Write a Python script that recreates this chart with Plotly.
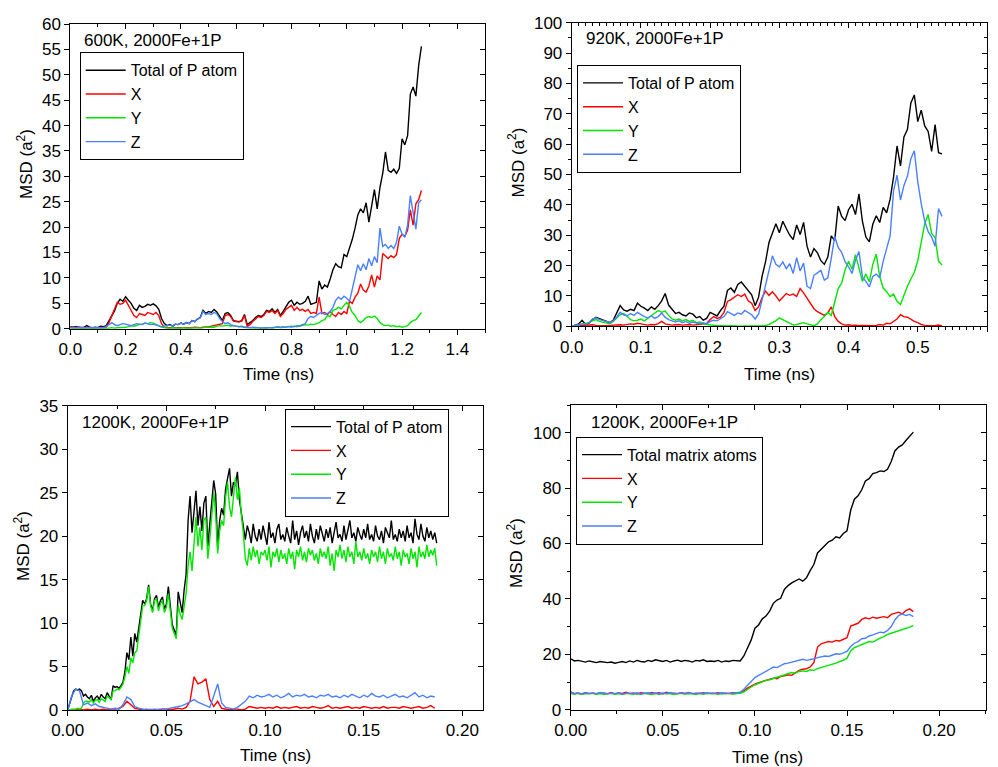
import plotly.graph_objects as go

# ---------------- Data ----------------
# Panel 1: 600K, 2000Fe+1P  (time step 0.01 ns)
P1_STEP = 0.01
p1_total = [0.4, 0.3, 0.4, 0.3, 0.2, 0.3, 0.6, 0.3, 0.2, 0.3,
            0.2, 0.5, 0.4, 0.6, 1.5, 2.5, 3.5, 5.0, 5.8, 5.4,
            6.3, 5.6, 5.0, 4.0, 3.6, 4.6, 4.2, 4.4, 4.8, 4.6,
            4.9, 4.5, 3.8, 2.0, 1.0, 0.6, 0.8, 0.5, 0.9, 0.8,
            1.1, 0.9, 1.2, 1.0, 1.6, 1.4, 1.9, 2.2, 3.6, 3.0,
            3.4, 3.2, 3.8, 3.3, 2.4, 1.6, 3.0, 3.2, 2.6, 1.6,
            1.5, 1.4, 1.6, 2.8, 0.8, 1.2, 1.6, 2.2, 2.6, 2.4,
            2.8, 3.6, 3.4, 3.9, 3.2, 3.8, 2.6, 3.4, 4.2, 5.2,
            5.6, 4.6, 5.2, 4.8, 5.0, 5.4, 6.4, 4.8, 5.0, 5.2,
            9.4, 7.8, 8.6, 8.2, 9.8, 11.6, 12.8, 12.2, 12.0, 14.6,
            14.2, 15.8, 17.6, 19.8, 22.4, 23.6, 22.8, 24.8, 21.0, 24.2,
            27.4, 23.6, 27.8, 30.6, 34.8, 31.2, 30.8, 31.4, 30.6, 31.6,
            37.4, 36.2, 38.0, 46.2, 47.6, 45.8, 51.8, 55.6]
p1_x = [0.3, 0.2, 0.2, 0.3, 0.2, 0.2, 0.3, 0.2, 0.2, 0.2,
        0.2, 0.3, 0.2, 0.3, 1.2, 2.5, 3.8, 5.2, 4.8, 5.0,
        5.6, 4.6, 3.8, 2.6, 2.2, 3.0, 2.8, 2.6, 3.2, 3.0,
        2.8, 3.2, 2.6, 1.0, 0.3, 0.2, 0.2, 0.1, 0.2, 0.1,
        0.2, 0.2, 0.1, 0.2, 0.2, 0.3, 0.2, 0.2, 0.3, 0.3,
        0.4, 0.5, 0.6, 0.8, 0.9, 1.0, 2.6, 2.8, 2.4, 1.5,
        1.4, 1.3, 1.5, 2.6, 0.4, 0.8, 1.4, 2.0, 2.4, 2.2,
        2.6, 3.4, 3.2, 3.6, 3.0, 3.6, 2.4, 3.0, 3.8, 4.2,
        4.6, 3.6, 4.2, 3.6, 3.8, 3.4, 3.8, 3.0, 3.2, 3.0,
        6.2, 3.0, 3.2, 2.8, 3.4, 2.8, 2.4, 3.2, 2.8, 3.4,
        3.0, 5.4, 5.0, 6.2, 7.0, 8.8, 7.6, 7.2, 8.4, 10.6,
        8.2, 10.4, 9.6, 14.8, 14.2, 13.8, 14.4, 14.0, 14.6, 17.8,
        18.6, 18.2, 19.4, 23.4, 20.4, 24.6, 25.4, 27.2]
p1_y = [0.1, 0.1, 0.0, 0.1, 0.1, 0.0, 0.1, 0.1, 0.0, 0.1,
        0.1, 0.1, 0.0, 0.1, 0.1, 0.2, 0.1, 0.2, 0.2, 0.3,
        0.3, 0.4, 0.6, 0.5, 0.7, 0.8, 0.9, 1.1, 1.0, 1.2,
        1.1, 0.8, 0.6, 0.3, 0.2, 0.1, 0.1, 0.2, 0.1, 0.1,
        0.1, 0.2, 0.1, 0.1, 0.2, 0.2, 0.1, 0.2, 0.2, 0.3,
        0.3, 0.4, 0.3, 0.5, 0.6, 0.5, 0.6, 0.7, 0.5, 0.6,
        0.5, 0.4, 0.3, 0.3, 0.2, 0.2, 0.1, 0.1, 0.2, 0.1,
        0.1, 0.1, 0.2, 0.1, 0.2, 0.3, 0.2, 0.3, 0.3, 0.4,
        0.5, 0.4, 0.6, 0.5, 0.7, 0.8, 0.7, 0.9, 0.8, 1.0,
        1.2, 1.6, 1.8, 2.6, 2.4, 3.6, 3.8, 4.2, 3.9, 4.6,
        5.2, 4.4, 3.2, 2.6, 1.6, 1.2, 1.6, 2.2, 2.4, 2.2,
        2.5, 2.0, 1.2, 0.8, 0.6, 0.7, 0.5, 0.6, 0.4, 0.5,
        0.3, 0.4, 0.6, 1.2, 1.6, 1.8, 2.4, 3.2]
p1_z = [0.2, 0.2, 0.3, 0.2, 0.2, 0.2, 0.2, 0.2, 0.3, 0.2,
        0.2, 0.3, 0.2, 0.4, 0.8, 1.2, 0.8, 0.6, 0.8, 1.0,
        0.9, 0.7, 0.6, 0.8, 1.0, 0.9, 0.8, 1.1, 1.0, 0.8,
        0.9, 0.7, 0.6, 0.4, 0.5, 0.6, 0.7, 0.5, 0.9, 0.8,
        1.1, 0.9, 1.2, 1.0, 1.6, 1.4, 1.9, 2.1, 3.4, 2.8,
        3.0, 2.8, 3.2, 2.9, 2.0, 1.4, 1.0, 1.2, 0.8, 0.6,
        0.5, 0.4, 0.5, 0.3, 0.3, 0.2, 0.3, 0.2, 0.2, 0.1,
        0.2, 0.2, 0.1, 0.2, 0.3, 0.4, 0.3, 0.4, 0.3, 0.4,
        0.3, 0.5, 0.4, 0.6, 0.8, 1.0, 2.0, 2.4, 2.2, 2.6,
        3.0, 3.2, 2.8, 3.0, 3.4, 4.2, 5.6, 6.2, 5.8, 6.4,
        6.0, 5.4, 7.8, 10.2, 12.6, 11.4, 12.8, 11.6, 13.8, 12.4,
        14.2, 13.0, 19.8, 16.2, 16.6, 15.8, 16.4, 15.8, 17.0, 20.2,
        18.6, 18.0, 20.4, 26.2, 22.4, 19.6, 24.8, 25.4]

# Panel 2: 920K, 2000Fe+1P  (time step 0.005 ns)
P2_STEP = 0.005
p2_total = [0.0, 0.5, 0.8, 2.0, 0.6, 1.0, 2.2, 3.0, 2.6, 2.2,
            1.8, 1.2, 2.0, 4.2, 6.8, 5.4, 5.0, 5.6, 5.2, 7.6,
            6.6, 6.0, 5.2, 6.4, 5.6, 6.8, 8.4, 10.8, 7.0, 5.6,
            4.2, 4.6, 3.8, 3.4, 4.4, 4.0, 2.8, 3.2, 2.0, 2.6,
            4.6, 4.0, 3.4, 5.2, 6.6, 11.8, 12.6, 11.2, 13.8, 14.6,
            13.2, 11.8, 10.4, 6.8, 9.6, 16.4, 21.2, 27.6, 30.4, 33.8,
            30.8, 34.6, 32.2, 30.0, 28.6, 33.4, 30.2, 34.2, 26.4, 22.8,
            25.6, 24.2, 21.6, 20.4, 22.8, 29.8, 28.2, 39.6, 36.2, 34.8,
            38.4, 40.2, 36.8, 43.6, 34.6, 29.4, 27.8, 33.6, 36.4, 34.2,
            39.2, 37.4, 41.8, 49.2, 59.4, 52.8, 62.4, 64.8, 73.6, 76.2,
            67.4, 71.2, 66.0, 64.2, 57.6, 66.4, 57.2, 56.8]
p2_x = [0.0, 0.1, 0.2, 0.1, 0.2, 0.3, 0.5, 0.3, 0.2, 0.3,
        0.2, 0.3, 0.4, 0.3, 0.5, 0.4, 0.6, 0.8, 0.7, 1.0,
        0.8, 0.6, 0.4, 0.6, 0.5, 0.9, 1.6, 0.8, 0.6, 0.4,
        0.5, 0.6, 0.4, 0.5, 0.6, 0.4, 0.5, 0.6, 0.7, 0.9,
        2.2, 3.2, 2.6, 3.0, 4.6, 8.2, 8.8, 9.6, 10.4, 9.8,
        10.6, 8.4, 7.6, 5.2, 6.4, 9.4, 11.6, 10.2, 11.4, 10.0,
        8.4, 9.6, 10.8, 10.2, 10.6, 9.8, 12.4, 11.0, 9.2, 7.6,
        5.8, 4.8, 4.2, 3.6, 4.4, 6.4, 3.2, 1.6, 0.8, 0.4,
        0.5, 0.3, 0.4, 0.2, 0.3, 0.2, 0.1, 0.2, 0.3, 0.6,
        0.4, 1.0, 0.8, 1.6, 2.4, 3.8, 3.2, 3.0, 2.2, 1.6,
        1.2, 0.6, 0.3, 0.2, 0.1, 0.2, 0.4, 0.1]
p2_y = [0.0, 0.2, 0.5, 0.8, 1.0, 1.2, 1.8, 2.2, 1.6, 1.4,
        1.0, 0.8, 1.6, 2.8, 3.8, 4.2, 3.4, 2.2, 1.8, 2.0,
        2.4, 1.8, 2.6, 3.4, 4.4, 5.2, 4.6, 5.0, 3.6, 2.4,
        2.0, 2.4, 1.8, 2.2, 1.6, 2.0, 1.2, 1.4, 0.8, 0.6,
        0.4, 0.3, 0.2, 0.2, 0.1, 0.1, 0.2, 0.1, 0.1, 0.0,
        0.1, 0.1, 0.0, 0.1, 0.1, 0.2, 0.3, 0.6, 1.2, 1.8,
        2.8, 2.2, 1.4, 0.8, 0.4, 0.6, 1.0, 1.2, 0.8, 0.4,
        0.2, 0.8, 2.2, 3.2, 4.6, 3.6, 7.8, 12.4, 14.2, 18.6,
        21.4, 18.8, 23.6, 19.2, 14.8, 17.2, 14.6, 20.4, 23.8, 16.4,
        12.6, 11.4, 9.8, 10.6, 8.2, 7.2, 10.4, 13.2, 15.6, 17.8,
        21.6, 28.4, 33.8, 36.8, 30.6, 29.2, 21.4, 20.2]
p2_z = [0.0, 0.3, 0.6, 0.8, 0.6, 1.2, 2.4, 2.8, 2.2, 2.0,
        1.6, 1.2, 1.8, 3.0, 4.6, 3.8, 3.4, 4.2, 3.6, 4.6,
        3.8, 3.2, 2.8, 3.4, 2.6, 3.2, 4.4, 3.0, 2.2, 1.8,
        1.4, 1.8, 1.2, 1.6, 1.0, 1.4, 1.0, 0.8, 1.2, 0.8,
        1.6, 2.0, 1.8, 2.6, 3.2, 4.8, 4.2, 3.6, 4.4, 4.0,
        5.2, 4.6, 3.8, 2.4, 4.0, 8.6, 13.2, 18.4, 23.2, 20.4,
        19.6, 21.2, 19.0, 20.6, 17.4, 22.6, 18.2, 20.8, 13.2, 12.4,
        16.8, 17.6, 18.4, 15.2, 16.0, 22.4, 29.6, 26.0, 24.4, 21.2,
        19.6, 17.4, 21.8, 24.6, 16.2, 14.8, 13.0, 16.4, 17.2, 16.0,
        21.4, 25.6, 29.8, 44.6, 49.8, 41.6, 46.4, 49.4, 55.2, 57.8,
        47.6, 40.4, 34.6, 31.2, 29.4, 26.4, 38.8, 36.2]

# Panel 3: 1200K, 2000Fe+1P, P atom (total & Y: step 0.001 ns; X & Z: step 0.002 ns)
P3_STEP_FINE = 0.001
P3_STEP = 0.002
p3_total = [0.0, 0.8, 1.6, 2.2, 2.4, 2.3, 2.4, 2.2, 1.6, 1.8,
            1.5, 1.3, 1.7, 1.0, 1.4, 1.6, 1.2, 1.8, 1.5, 1.3,
            2.0, 1.6, 1.2, 2.8, 2.6, 2.7, 2.5, 2.8, 3.2, 4.4,
            6.6, 5.8, 8.4, 6.2, 8.8, 7.8, 9.6, 11.4, 12.6, 12.2,
            12.8, 14.4, 12.2, 11.4, 12.8, 13.2, 11.8, 12.6, 13.0, 11.6,
            12.2, 14.2, 11.8, 9.8, 9.2, 8.6, 13.6, 12.4, 11.2, 13.8,
            15.6, 21.8, 24.6, 20.4, 22.8, 25.2, 21.2, 23.4, 20.6, 23.8,
            24.6, 18.8, 21.4, 24.2, 26.4, 24.8, 18.6, 21.8, 23.2, 22.4,
            25.4, 26.6, 27.8, 24.6, 26.2, 25.8, 27.4, 24.2, 22.6, 21.4,
            19.6, 21.2, 20.4, 19.2, 21.4, 20.0, 19.4, 20.8, 19.6, 21.2,
            20.2, 19.0, 21.6, 19.8, 20.4, 19.2, 20.8, 21.4, 19.6, 20.2,
            19.4, 21.0, 20.0, 19.2, 21.8, 19.6, 20.6, 19.0, 20.4, 21.2,
            19.8, 20.6, 19.4, 21.4, 20.0, 19.2, 20.8, 19.6, 21.2, 20.2,
            19.4, 20.8, 19.8, 21.0, 19.2, 20.4, 21.6, 19.8, 20.2, 19.4,
            21.2, 19.6, 20.6, 21.8, 19.8, 20.4, 19.4, 21.0, 20.2, 19.6,
            20.8, 19.8, 21.4, 19.6, 20.2, 19.4, 21.2, 20.0, 19.6, 20.6,
            19.2, 21.0, 20.4, 19.8, 21.8, 19.6, 20.2, 19.4, 20.8, 19.8,
            20.6, 19.4, 21.2, 19.8, 20.4, 19.2, 22.0, 20.2, 19.6, 21.4,
            20.0, 19.4, 21.0, 19.8, 20.6, 19.6, 20.4, 19.2]
p3_y = [0.0, 0.0, 0.1, 0.1, 0.1, 0.2, 0.1, 0.2, 0.8, 1.0,
        1.0, 0.9, 1.2, 0.8, 1.1, 1.2, 0.9, 1.3, 1.1, 1.0,
        1.6, 1.4, 1.2, 2.2, 2.2, 2.4, 2.3, 2.6, 3.0, 3.8,
        5.0, 4.2, 6.0, 5.4, 6.6, 6.8, 8.4, 10.6, 12.0, 12.0,
        12.6, 14.2, 12.0, 11.2, 12.6, 12.8, 11.4, 12.2, 12.6, 11.2,
        11.8, 13.4, 11.2, 9.4, 8.8, 8.2, 12.0, 11.0, 10.4, 12.2,
        13.4, 16.6, 18.2, 16.0, 19.8, 22.2, 18.8, 21.0, 18.4, 21.8,
        22.2, 17.4, 19.6, 22.0, 25.0, 22.4, 18.0, 20.6, 21.8, 21.2,
        24.4, 26.2, 23.4, 22.2, 25.0, 26.8, 24.2, 25.6, 22.4, 20.4,
        17.4, 16.6, 18.6, 17.2, 18.8, 17.6, 18.4, 16.8, 18.2, 17.8,
        18.4, 17.2, 18.8, 16.4, 18.2, 17.6, 18.6, 17.0, 18.4, 17.4,
        18.0, 16.8, 18.6, 17.4, 18.2, 16.2, 18.4, 17.6, 18.8, 17.2,
        18.2, 17.0, 18.6, 17.8, 18.4, 17.2, 18.0, 16.8, 18.6, 17.6,
        18.2, 17.4, 18.8, 16.6, 18.0, 16.0, 18.4, 17.6, 19.0, 17.4,
        18.4, 17.0, 18.8, 17.6, 18.2, 16.8, 19.4, 17.6, 18.2, 17.2,
        18.6, 17.4, 18.0, 16.8, 18.4, 17.6, 18.2, 17.0, 18.8, 17.4,
        18.2, 16.8, 18.6, 17.6, 18.0, 17.2, 18.8, 17.4, 18.2, 16.6,
        18.4, 17.6, 18.0, 16.8, 18.6, 17.4, 18.2, 16.4, 18.8, 17.6,
        18.2, 17.4, 19.0, 17.6, 18.4, 17.8, 18.6, 16.6]
p3_x = [0.0, 0.0, 0.0, 0.1, 0.0, 0.1, 0.0, 0.1, 0.0, 0.1,
        0.0, 0.1, 0.1, 0.2, 0.4, 1.0, 0.6, 0.2, 0.1, 0.0,
        0.1, 0.0, 0.1, 0.0, 0.1, 0.1, 0.0, 0.1, 0.2, 0.1,
        0.3, 1.0, 3.8, 3.0, 3.2, 3.6, 1.2, 0.4, 1.0, 0.2,
        0.1, 0.0, 0.1, 0.1, 0.0, 0.1, 0.4, 0.3, 0.2, 0.3,
        0.2, 0.3, 0.2, 0.4, 0.2, 0.3, 0.2, 0.3, 0.4, 0.2,
        0.3, 0.2, 0.4, 0.3, 0.2, 0.3, 0.5, 0.2, 0.3, 0.2,
        0.3, 0.4, 0.2, 0.3, 0.2, 0.4, 0.3, 0.2, 0.3, 0.2,
        0.4, 0.2, 0.3, 0.3, 0.2, 0.4, 0.3, 0.2, 0.3, 0.4,
        0.2, 0.3, 0.5, 0.2]
p3_z = [0.0, 1.6, 2.4, 2.2, 0.6, 0.8, 0.5, 0.7, 0.4, 0.3,
        0.2, 0.1, 0.2, 0.1, 0.6, 1.5, 1.2, 0.4, 0.2, 0.1,
        0.0, 0.1, 0.0, 0.1, 0.1, 0.1, 0.2, 0.3, 0.4, 0.5,
        0.7, 1.0, 1.2, 0.9, 0.7, 0.5, 0.3, 1.6, 3.0, 0.8,
        0.3, 0.2, 0.1, 0.3, 0.6, 1.0, 1.6, 1.4, 1.7, 1.5,
        1.6, 1.8, 1.5, 1.7, 1.4, 1.6, 1.9, 1.5, 1.7, 1.6,
        1.8, 1.5, 1.6, 1.4, 1.7, 1.6, 1.8, 1.5, 1.6, 1.4,
        1.7, 1.5, 1.8, 1.6, 1.4, 1.7, 1.5, 1.9, 1.6, 1.5,
        1.7, 1.4, 1.6, 1.8, 1.5, 1.6, 1.4, 1.7, 2.0, 1.5,
        1.7, 1.4, 1.6, 1.5]

# Panel 4: 1200K, 2000Fe+1P, matrix atoms (time step 0.002 ns)
P4_STEP = 0.002
p4_total = [18.4, 17.6, 17.8, 17.4, 17.2, 17.6, 17.3, 17.0, 17.4, 17.2,
            17.0, 17.2, 16.8, 17.1, 17.4, 17.0, 17.6, 17.2, 17.8, 17.4,
            17.2, 17.8, 17.4, 18.0, 17.6, 17.4, 17.8, 17.2, 17.6, 17.9,
            17.4, 17.8, 17.6, 17.2, 17.8, 17.6, 18.0, 17.4, 17.6, 17.4,
            17.8, 17.2, 17.6, 17.4, 17.8, 17.6, 17.6, 19.4, 22.4, 25.2,
            29.4, 30.6, 32.8, 33.8, 35.6, 38.4, 39.6, 40.2, 43.4, 44.8,
            45.8, 46.6, 47.2, 46.4, 47.6, 50.2, 52.4, 56.6, 58.0, 59.4,
            60.6, 61.2, 62.4, 62.0, 63.6, 64.6, 72.0, 76.0, 77.2, 79.4,
            82.6, 83.4, 85.2, 85.6, 86.2, 86.0, 86.8, 89.6, 93.4, 94.8,
            95.6, 97.2, 98.8, 100.2]
p4_x = [6.4, 5.8, 6.0, 5.6, 6.2, 5.8, 6.0, 5.7, 6.1, 5.9,
        5.8, 6.2, 5.7, 6.0, 5.9, 6.3, 5.8, 6.0, 5.7, 6.1,
        6.0, 5.8, 6.2, 5.9, 6.1, 5.7, 6.3, 5.9, 6.0, 5.8,
        6.1, 5.9, 6.2, 5.8, 6.0, 5.9, 6.1, 5.8, 6.0, 5.9,
        6.1, 5.8, 6.0, 5.9, 6.1, 6.0, 6.2, 6.8, 7.8, 8.6,
        9.2, 9.8, 10.2, 10.6, 10.8, 11.4, 11.2, 12.0, 12.2, 12.6,
        12.4, 13.4, 14.2, 14.6, 14.8, 15.4, 17.0, 22.6, 23.8, 24.2,
        24.6, 24.4, 25.0, 24.8, 25.4, 26.0, 30.2, 30.8, 31.2, 32.6,
        33.2, 32.8, 33.4, 33.0, 33.4, 33.6, 33.2, 34.4, 34.8, 35.2,
        34.6, 35.8, 36.4, 35.4]
p4_y = [5.8, 5.6, 5.9, 5.5, 5.8, 5.7, 5.9, 5.6, 5.8, 5.5,
        5.7, 5.9, 5.6, 5.8, 5.5, 5.9, 5.7, 5.6, 5.8, 5.6,
        5.9, 5.7, 5.5, 5.8, 5.6, 5.9, 5.7, 5.8, 5.5, 5.7,
        5.9, 5.6, 5.8, 5.7, 5.5, 5.8, 5.6, 5.9, 5.7, 5.8,
        5.6, 5.8, 5.7, 5.9, 5.6, 5.8, 5.9, 6.4, 7.4, 8.2,
        9.0, 9.6, 10.0, 10.6, 10.8, 11.2, 11.8, 12.0, 12.6, 12.8,
        13.4, 13.2, 13.8, 14.0, 13.8, 14.4, 14.2, 14.8, 15.2, 15.6,
        15.8, 16.4, 16.8, 17.4, 17.8, 18.6, 21.2, 22.4, 23.0, 23.6,
        24.2, 24.6, 24.4, 25.2, 25.8, 26.4, 27.2, 27.6, 28.0, 28.4,
        28.8, 29.2, 29.8, 30.4]
p4_z = [6.2, 5.8, 6.0, 5.7, 6.1, 5.9, 6.0, 5.8, 6.2, 5.9,
        5.7, 6.0, 5.8, 6.1, 5.6, 5.9, 6.0, 5.8, 6.1, 5.7,
        5.9, 6.1, 5.8, 6.0, 5.7, 6.0, 5.9, 6.2, 5.8, 5.9,
        6.0, 5.8, 6.1, 5.9, 5.7, 6.0, 5.8, 6.1, 5.9, 6.0,
        5.8, 6.1, 5.9, 5.8, 6.0, 6.1, 6.3, 7.4, 8.8, 10.2,
        11.6, 12.4, 13.0, 13.8, 14.6, 15.4, 15.2, 16.0, 16.6, 16.8,
        17.2, 17.6, 17.8, 18.2, 17.8, 18.0, 18.4, 18.8, 19.0, 19.4,
        19.2, 19.8, 20.2, 20.0, 20.4, 21.0, 22.8, 24.0, 24.6, 25.6,
        25.8, 26.6, 27.0, 27.6, 28.0, 27.8, 28.6, 30.0, 32.4, 34.0,
        34.6, 34.0, 34.4, 33.6]

# Legend labels and panel labels
LABELS_P = ["Total of P atom", "X", "Y", "Z"]
LABELS_M = ["Total matrix atoms", "X", "Y", "Z"]
PANEL_TITLES = ["600K, 2000Fe+1P", "920K, 2000Fe+1P",
                "1200K, 2000Fe+1P", "1200K, 2000Fe+1P"]

# ---------------- Styling ----------------
COLORS = ["#000000", "#ff0000", "#00e600", "#4a80ff"]
FONT = "Arial, 'Liberation Sans', sans-serif"
FS = 17
# page body has a default 8px margin: the figure is placed at (8, 8)
OFF = 8
W, H = 998 - OFF, 767 - OFF


def times(vals, step):
    return [round(i * step, 4) for i in range(len(vals))]


fig = go.Figure()

panels = [
    ("x", "y", "legend", [(p1_total, P1_STEP), (p1_x, P1_STEP), (p1_y, P1_STEP), (p1_z, P1_STEP)], LABELS_P),
    ("x2", "y2", "legend2", [(p2_total, P2_STEP), (p2_x, P2_STEP), (p2_y, P2_STEP), (p2_z, P2_STEP)], LABELS_P),
    ("x3", "y3", "legend3", [(p3_total, P3_STEP_FINE), (p3_x, P3_STEP), (p3_y, P3_STEP_FINE), (p3_z, P3_STEP)], LABELS_P),
    ("x4", "y4", "legend4", [(p4_total, P4_STEP), (p4_x, P4_STEP), (p4_y, P4_STEP), (p4_z, P4_STEP)], LABELS_M),
]

for xa, ya, lg, series, labels in panels:
    for k, ((vals, step), name) in enumerate(zip(series, labels)):
        fig.add_trace(go.Scatter(
            x=times(vals, step), y=vals, mode="lines", name=name,
            line=dict(color=COLORS[k], width=1.4),
            xaxis=xa, yaxis=ya, legend=lg, showlegend=True,
        ))


def px_x(p):
    return (p - OFF) / W


def px_y(p):
    return 1 - (p - OFF) / H


# plot boxes in screen pixels: (left, right, top, bottom)
boxes = [(70.3, 485.0, 24.0, 328.7),
         (571.7, 987.0, 22.7, 326.3),
         (67.7, 482.7, 405.7, 710.0),
         (570.7, 985.7, 405.0, 709.7)]

xranges = [[0, 1.5], [0, 0.6], [0, 0.2103], [0, 0.2253]]
yranges = [[0, 60], [0, 100], [0, 35], [0, 110]]
xdticks = [0.2, 0.1, 0.05, 0.05]
xminor = [0.1, 0.01, 0.025, 0.025]
xfmt = [".1f", ".1f", ".2f", ".2f"]
ydticks = [5, 10, 5, 20]
yminor = [None, 5, None, 10]
ymax_tick = [60, 100, 35, 100]

axis_common = dict(showgrid=False, zeroline=False, showline=True,
                   linecolor="black", linewidth=1, automargin=False,
                   tickfont=dict(family=FONT, size=FS, color="black"),
                   tickcolor="black", tickwidth=1)

layout_axes = {}
for i in range(4):
    L, R, T, B = boxes[i]
    xd = [px_x(L), px_x(R)]
    yd = [px_y(B), px_y(T)]
    sx = "" if i == 0 else str(i + 1)
    xname = "xaxis" + sx
    yname = "yaxis" + sx
    xid = "x" + sx
    yid = "y" + sx
    ytickvals = list(range(0, ymax_tick[i] + 1, ydticks[i]))
    layout_axes[xname] = dict(domain=xd, range=xranges[i], anchor=yid,
                              dtick=xdticks[i], tick0=0, tickformat=xfmt[i],
                              ticks="outside", ticklen=5, mirror=True,
                              minor=dict(dtick=xminor[i], tick0=0, ticks="outside",
                                         ticklen=3, tickcolor="black", tickwidth=1),
                              **axis_common)
    ya = dict(domain=yd, range=yranges[i], anchor=xid,
              tickmode="array", tickvals=ytickvals, mirror=True,
              ticks="outside", ticklen=5, **axis_common)
    if yminor[i]:
        ya["minor"] = dict(dtick=yminor[i], tick0=0, ticks="outside", ticklen=3,
                           tickcolor="black", tickwidth=1)
    layout_axes[yname] = ya
    # mirrored axes with inward ticks (top & right)
    mx = "xaxis" + str(i + 5)
    my = "yaxis" + str(i + 5)
    layout_axes[mx] = dict(overlaying=xid, side="top", anchor=yid,
                           range=xranges[i], dtick=xdticks[i], tick0=0,
                           ticks="inside", ticklen=5, showticklabels=False,
                           minor=dict(dtick=xminor[i], tick0=0, ticks="inside",
                                      ticklen=3, tickcolor="black", tickwidth=1),
                           **axis_common)
    mya = dict(overlaying=yid, side="right", anchor=xid,
               range=yranges[i], tickmode="array", tickvals=ytickvals,
               ticks="inside", ticklen=5, showticklabels=False, **axis_common)
    if yminor[i]:
        mya["minor"] = dict(dtick=yminor[i], tick0=0, ticks="inside", ticklen=3,
                            tickcolor="black", tickwidth=1)
    layout_axes[my] = mya

# empty traces so the tick-only mirror axes get drawn
for i in range(4):
    fig.add_trace(go.Scatter(x=[], y=[], xaxis="x" + str(i + 5),
                             yaxis="y" + str(i + 5), showlegend=False,
                             hoverinfo="skip"))

legend_common = dict(bgcolor="white", bordercolor="black", borderwidth=1,
                     font=dict(family=FONT, size=16, color="black"),
                     xanchor="left", yanchor="top", traceorder="normal",
                     itemwidth=40, tracegroupgap=0)
legend_pos = [(79.7, 52.3), (577.0, 65.0), (285.0, 408.7), (576.0, 436.7)]
legends = {}
for i, (lx, ly) in enumerate(legend_pos):
    name = "legend" if i == 0 else "legend" + str(i + 1)
    legends[name] = dict(x=px_x(lx), y=px_y(ly), **legend_common)

annotations = []
title_pos = [(81.7, 41.0), (583.7, 39.0), (80.0, 422.7), (589.0, 422.3)]
for (tx, ty), txt in zip(title_pos, PANEL_TITLES):
    annotations.append(dict(text=txt, x=px_x(tx), y=px_y(ty), xref="paper",
                            yref="paper", xanchor="left", yanchor="middle",
                            showarrow=False,
                            font=dict(family=FONT, size=FS, color="black")))
ytitle_pos = [(25.0, 164.0), (517.0, 162.5), (22.0, 546.0), (515.0, 553.0)]
for tx, ty in ytitle_pos:
    annotations.append(dict(text="MSD (a<sup>2</sup>)", x=px_x(tx), y=px_y(ty),
                            xref="paper", yref="paper", xanchor="center",
                            yanchor="middle", textangle=-90, showarrow=False,
                            font=dict(family=FONT, size=FS, color="black")))
xtitle_pos = [(278.0, 374.0), (779.7, 374.0), (275.0, 755.0), (767.0, 757.0)]
for tx, ty in xtitle_pos:
    annotations.append(dict(text="Time (ns)", x=px_x(tx), y=px_y(ty),
                            xref="paper", yref="paper", xanchor="center",
                            yanchor="middle", showarrow=False,
                            font=dict(family=FONT, size=FS, color="black")))

fig.update_layout(
    width=W, height=H, autosize=False,
    margin=dict(l=0, r=0, t=0, b=0, autoexpand=False),
    paper_bgcolor="white", plot_bgcolor="white",
    font=dict(family=FONT, size=FS, color="black"),
    annotations=annotations,
    **layout_axes, **legends,
)

fig.write_html("out.html")
